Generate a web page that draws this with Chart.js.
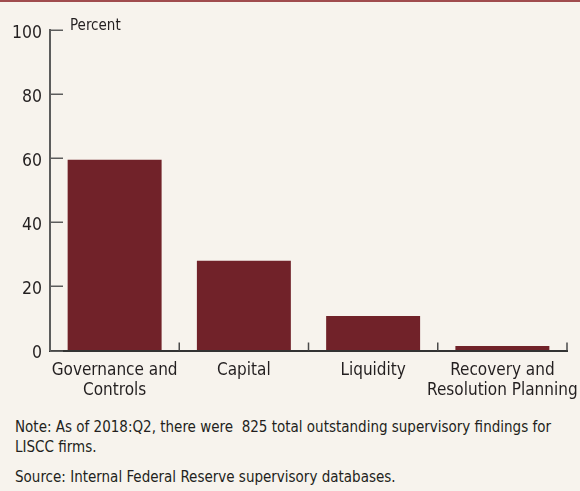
<!DOCTYPE html>
<html>
<head>
<meta charset="utf-8">
<script src="https://cdn.jsdelivr.net/npm/chart.js@4.4.1/dist/chart.umd.min.js"></script>
<style>
  html, body { margin: 0; padding: 0; background: #f7f3ed; width: 580px; height: 491px; overflow: hidden; }
  body { position: relative; font-family: 'DejaVu Sans Condensed', 'Liberation Sans Narrow', sans-serif; color: #231f20; }
  #topline { position: absolute; left: 0; top: 0; width: 580px; height: 1.5px; background: #a04c4e; }
  #wrap { position: absolute; left: 0; top: 0; width: 580px; height: 405px; }
  #unit { position: absolute; left: 70px; top: 15px; font-size: 15px; line-height: 20px; }
  .note { position: absolute; left: 15px; font-size: 15px; line-height: 20px; white-space: nowrap; }
</style>
</head>
<body>
<div id="wrap"><canvas id="c" width="580" height="405"></canvas></div>
<div id="topline"></div>
<div id="unit">Percent</div>
<div class="note" style="top:417px;">Note: As of 2018:Q2, there were&nbsp; 825 total outstanding supervisory findings for<br>LISCC firms.</div>
<div class="note" style="top:467px;">Source: Internal Federal Reserve supervisory databases.</div>
<script>
const categories = [["Governance and", "Controls"], ["Capital"], ["Liquidity"], ["Recovery and", "Resolution Planning"]];
const shareOfFindings = [59.5, 28.0, 10.8, 1.4];
const yTicks = [0, 20, 40, 60, 80, 100];

const FONT = "'DejaVu Sans Condensed', 'Liberation Sans Narrow', sans-serif";

const tickMarks = {
  id: 'tickMarks',
  afterDraw(chart) {
    const ctx = chart.ctx;
    const x = chart.scales.x, y = chart.scales.y;
    ctx.save();
    ctx.strokeStyle = '#5c5c5c';
    ctx.lineWidth = 1.5;
    yTicks.forEach(v => {
      const py = Math.round(y.getPixelForValue(v)) + 0.25;
      ctx.beginPath();
      ctx.moveTo(y.right, py);
      ctx.lineTo(y.right + 13, py);
      ctx.stroke();
    });
    ctx.strokeStyle = '#4a4a4a';
    ctx.lineWidth = 1.5;
    const n = categories.length;
    const step = x.getPixelForValue(1) - x.getPixelForValue(0);
    for (let i = 1; i <= n; i++) {
      const px = x.getPixelForValue(i - 1) + step / 2;
      ctx.beginPath();
      ctx.moveTo(px, x.top);
      ctx.lineTo(px, x.top - 8);
      ctx.stroke();
    }
    ctx.restore();
  }
};

new Chart(document.getElementById('c'), {
  type: 'bar',
  data: {
    labels: categories,
    datasets: [{
      data: shareOfFindings,
      backgroundColor: '#712229',
      borderWidth: 0,
      categoryPercentage: 1.0,
      barPercentage: 0.727
    }]
  },
  options: {
    responsive: false,
    animation: false,
    events: [],
    layout: { padding: { left: 0, right: 13, top: 30, bottom: 0 } },
    plugins: { legend: { display: false }, tooltip: { enabled: false }, title: { display: false } },
    scales: {
      x: {
        offset: true,
        grid: { display: true, drawOnChartArea: false, drawTicks: false, color: 'rgba(0,0,0,0)' },
        border: { display: true, color: '#333333', width: 2 },
        ticks: {
          color: '#231f20',
          font: { family: FONT, size: 17, lineHeight: 1.18 },
          padding: 10,
          maxRotation: 0,
          autoSkip: false
        },
        afterFit(scale) { scale.height = 54.5; scale.paddingLeft = 0; scale.paddingRight = 0; }
      },
      y: {
        min: 0, max: 100,
        afterBuildTicks(scale) { scale.ticks = yTicks.map(v => ({ value: v })); },
        grid: { display: true, drawOnChartArea: false, drawTicks: false, color: 'rgba(0,0,0,0)' },
        border: { display: true, color: '#5c5c5c', width: 2 },
        ticks: {
          color: '#231f20',
          font: { family: FONT, size: 17.5 },
          padding: 8,
          labelOffset: 3
        },
        afterFit(scale) { scale.width = 50; scale.paddingTop = 0; scale.paddingBottom = 0; }
      }
    }
  },
  plugins: [tickMarks]
});
</script>
</body>
</html>
